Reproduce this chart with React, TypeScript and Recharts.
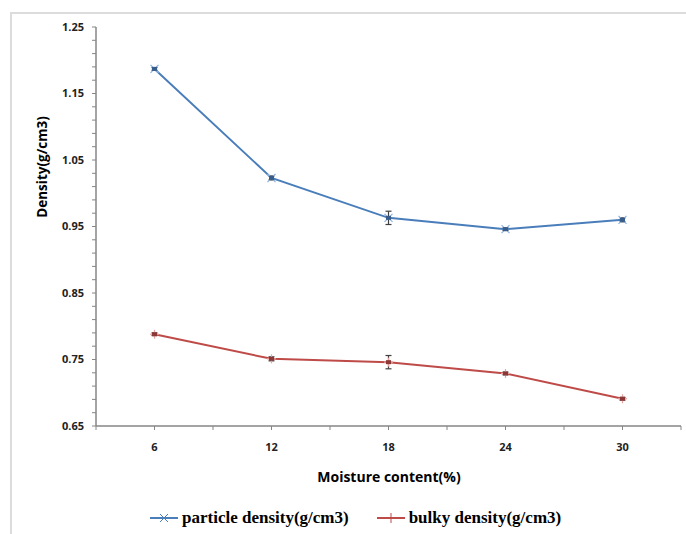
import React from "react";
import { LineChart, Line, XAxis, YAxis, ErrorBar } from "recharts";

const moisture = [6, 12, 18, 24, 30];
const particleDensity = [1.187, 1.023, 0.963, 0.946, 0.96];
const particleErr = [0.002, 0.003, 0.01, 0.002, 0.003];
const bulkyDensity = [0.788, 0.751, 0.746, 0.729, 0.691];
const bulkyErr = [0.002, 0.003, 0.01, 0.002, 0.002];

const xTicks = [3, 6, 9, 12, 15, 18, 21, 24, 27, 30, 33];
const xTickLabels = ["6", "12", "18", "24", "30"];
const yTicks = [
  0.65, 0.67, 0.69, 0.71, 0.73, 0.75, 0.77, 0.79, 0.81, 0.83, 0.85, 0.87, 0.89, 0.91, 0.93,
  0.95, 0.97, 0.99, 1.01, 1.03, 1.05, 1.07, 1.09, 1.11, 1.13, 1.15, 1.17, 1.19, 1.21, 1.23, 1.25,
];
const yTickLabels = ["0.65", "0.75", "0.85", "0.95", "1.05", "1.15", "1.25"];

const seriesNames = ["particle density(g/cm3)", "bulky density(g/cm3)"];
const BLUE = "#4A7EBB";
const RED = "#BE4B48";

const data = moisture.map((m, i) => ({
  m,
  p: particleDensity[i],
  pErr: particleErr[i],
  b: bulkyDensity[i],
  bErr: bulkyErr[i],
}));

const tickFont = "'Open Sans', 'DejaVu Sans', sans-serif";

const XTick = (props: any) => {
  const { x, y, payload } = props;
  const label = String(payload.value);
  if (!xTickLabels.includes(label)) return <g />;
  return (
    <text x={x} y={y + 19} textAnchor="middle" fontSize={11} fontWeight="bold" fill="#222" fontFamily={tickFont}>
      {label}
    </text>
  );
};

const YTick = (props: any) => {
  const { x, y, payload } = props;
  const label = Number(payload.value).toFixed(2);
  if (!yTickLabels.includes(label)) return <g />;
  return (
    <text x={x - 6} y={y} dy="0.35em" textAnchor="end" fontSize={11} fontWeight="bold" fill="#222" fontFamily={tickFont}>
      {label}
    </text>
  );
};

const XDot = (props: any) => {
  const { cx, cy, index } = props;
  if (cx == null || cy == null) return <g key={`xd-${index}`} />;
  const s = 4;
  return (
    <g key={`xd-${index}`}>
      <line x1={cx - s} y1={cy - s} x2={cx + s} y2={cy + s} stroke="#8EB4E3" strokeWidth={1.2} />
      <line x1={cx - s} y1={cy + s} x2={cx + s} y2={cy - s} stroke="#8EB4E3" strokeWidth={1.2} />
      <rect x={cx - 2.5} y={cy - 2} width={5} height={4} fill="#385D8A" />
    </g>
  );
};

const PlusDot = (props: any) => {
  const { cx, cy, index } = props;
  if (cx == null || cy == null) return <g key={`pd-${index}`} />;
  const s = 4.5;
  return (
    <g key={`pd-${index}`}>
      <line x1={cx - s} y1={cy} x2={cx + s} y2={cy} stroke="#E6A5A3" strokeWidth={1.2} />
      <line x1={cx} y1={cy - s} x2={cx} y2={cy + s} stroke="#E6A5A3" strokeWidth={1.2} />
      <rect x={cx - 2.5} y={cy - 2} width={5} height={4} fill="#8C3836" />
    </g>
  );
};

const LegendIcon = ({ color, kind }: { color: string; kind: "x" | "+" }) => (
  <svg width={28} height={12} style={{ marginRight: 4 }}>
    <line x1={0} y1={6} x2={28} y2={6} stroke={color} strokeWidth={2} />
    {kind === "x" ? (
      <g stroke={color} strokeWidth={1}>
        <line x1={10} y1={2} x2={18} y2={10} />
        <line x1={10} y1={10} x2={18} y2={2} />
      </g>
    ) : (
      <line x1={14} y1={1} x2={14} y2={11} stroke={color} strokeWidth={1} />
    )}
  </svg>
);

export default function App() {
  return (
    <div style={{ position: "absolute", left: 0, top: 0, width: 686, height: 534, background: "#fff", overflow: "hidden" }}>
      <div
        style={{
          position: "absolute",
          left: 10,
          top: 12,
          width: 676,
          height: 522,
          borderTop: "2px solid #DCDCDC",
          borderLeft: "2px solid #DCDCDC",
          boxSizing: "border-box",
        }}
      />
      <div style={{ position: "absolute", left: 0, top: 0 }}>
        <LineChart width={686} height={534} data={data} margin={{ top: 27, right: 5, left: 36, bottom: 0 }}>
          <XAxis
            dataKey="m"
            type="number"
            domain={[3, 33]}
            ticks={xTicks}
            interval={0}
            tick={<XTick />}
            tickSize={4}
            height={108}
            stroke="#868686"
            tickLine={{ stroke: "#868686" }}
            axisLine={{ stroke: "#868686", strokeWidth: 1.5 }}
          />
          <YAxis
            type="number"
            domain={[0.65, 1.25]}
            ticks={yTicks}
            interval={0}
            tick={<YTick />}
            tickSize={4}
            width={60}
            allowDataOverflow
            stroke="#868686"
            tickLine={{ stroke: "#868686" }}
            axisLine={{ stroke: "#868686", strokeWidth: 1.5 }}
          />
          <Line
            type="linear"
            dataKey="p"
            name={seriesNames[0]}
            stroke={BLUE}
            strokeWidth={2}
            dot={<XDot />}
            activeDot={false}
            isAnimationActive={false}
          >
            <ErrorBar dataKey="pErr" direction="y" width={3} stroke="#404040" strokeWidth={1.2} />
          </Line>
          <Line
            type="linear"
            dataKey="b"
            name={seriesNames[1]}
            stroke={RED}
            strokeWidth={2}
            dot={<PlusDot />}
            activeDot={false}
            isAnimationActive={false}
          >
            <ErrorBar dataKey="bErr" direction="y" width={3} stroke="#404040" strokeWidth={1.2} />
          </Line>
        </LineChart>
      </div>
      <div
        style={{
          position: "absolute",
          left: 42,
          top: 167,
          transform: "translate(-50%, -50%) rotate(-90deg)",
          whiteSpace: "nowrap",
          fontFamily: tickFont,
          fontWeight: "bold",
          fontSize: 13.5,
          color: "#000",
        }}
      >
        Density(g/cm3)
      </div>
      <div
        style={{
          position: "absolute",
          left: 389,
          top: 476,
          transform: "translate(-50%, -50%)",
          whiteSpace: "nowrap",
          fontFamily: tickFont,
          fontWeight: "bold",
          fontSize: 14,
          color: "#000",
        }}
      >
        Moisture content(%)
      </div>
      <div
        style={{
          position: "absolute",
          left: 150,
          top: 518,
          transform: "translateY(-50%)",
          display: "flex",
          alignItems: "center",
          whiteSpace: "nowrap",
          fontFamily: "'Liberation Serif', 'Times New Roman', serif",
          fontWeight: "bold",
          fontSize: 17,
          color: "#000",
        }}
      >
        <LegendIcon color={BLUE} kind="x" />
        <span style={{ marginRight: 28 }}>{seriesNames[0]}</span>
        <LegendIcon color={RED} kind="+" />
        <span>{seriesNames[1]}</span>
      </div>
    </div>
  );
}
